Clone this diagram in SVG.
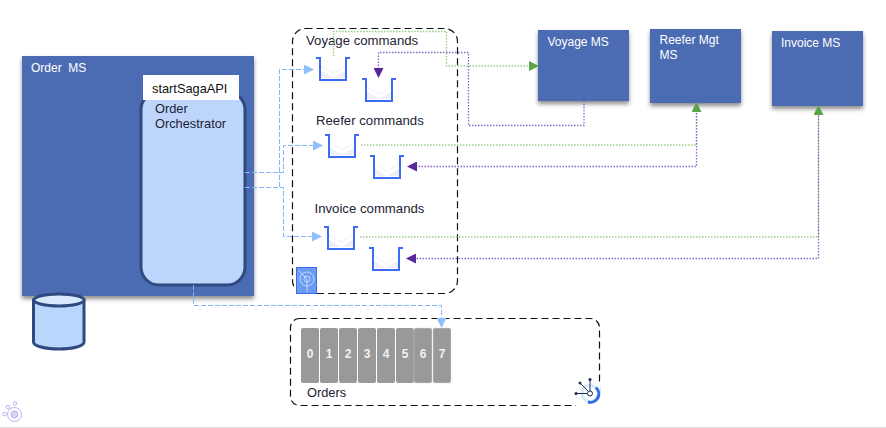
<svg xmlns="http://www.w3.org/2000/svg" width="886" height="428" viewBox="0 0 886 428">
<style>
text{font-family:"Liberation Sans",Arial,sans-serif;font-size:12.800px;fill:#1e2233}
.cm{font-size:13.200px}
.w{fill:#fff;font-size:12px}
.ms{fill:#4b6cb3;filter:url(#sh)}
.bx{fill:none;stroke:#111;stroke-width:1.200;stroke-dasharray:7 4}
.bl{fill:none;stroke:#7db8ff;stroke-width:1;stroke-dasharray:5 2}
.gr{fill:none;stroke:#9ccb8b;stroke-width:1.400;stroke-dasharray:1.500 1.500}
.pu{fill:none;stroke:#8a68c4;stroke-width:1.300;stroke-dasharray:1.500 1.500}
.qu{fill:none;stroke:#3c6cf5;stroke-width:2}
.qe{fill:#eef1fb}
.qf{fill:none;stroke:#d5def5;stroke-width:.8;stroke-dasharray:1.500 1}
.pt{fill:#999}
.pd{fill:#999;stroke:#ddd;stroke-width:.8;stroke-dasharray:1 1}
.pn{fill:#f2f2f2;font-size:12px;font-weight:bold;text-anchor:middle}
</style>
<defs>
<filter id="sh" x="-10%" y="-10%" width="125%" height="125%"><feDropShadow dx="0" dy="3" stdDeviation="2" flood-color="#000" flood-opacity=".45"/></filter>
<marker id="ab" markerWidth="10" markerHeight="10" refX="9" refY="5" orient="auto" markerUnits="userSpaceOnUse"><path d="M0 0L10 5L0 10Z" fill="#8fc0fa"/></marker>
<marker id="ag" markerWidth="10" markerHeight="10" refX="9" refY="5" orient="auto" markerUnits="userSpaceOnUse"><path d="M0 0L10 5L0 10Z" fill="#5ba24a"/></marker>
<marker id="ap" markerWidth="10" markerHeight="10" refX="9" refY="5" orient="auto" markerUnits="userSpaceOnUse"><path d="M0 0L10 5L0 10Z" fill="#56289a"/></marker>
<g id="q"><path class="qe" d="M4 13L17 21L30 13V21H4Z"/><path class="qf" d="M5 9L17 16L29 9"/><path class="qu" d="M0 1H4V23H30V1H34"/></g>
</defs>

<g id="order-ms">
<rect class="ms" x="22" y="56" width="232" height="240"/>
<text class="w" x="31" y="72" xml:space="preserve">Order  MS</text>
</g>
<g id="orchestrator">
<rect x="141" y="92" width="104" height="193" rx="18" fill="#bdd5fb" stroke="#2f4a80" stroke-width="3"/>
<text x="155" y="113">Order</text>
<text x="155" y="128">Orchestrator</text>
</g>
<g id="start-saga-api">
<rect x="143" y="75" width="96" height="25" fill="#fff"/>
<text x="152" y="93" style="fill:#111">startSagaAPI</text>
</g>
<g id="database">
<path d="M33.500 300V342C33.500 346 45 349 59 349S84 346 84 342V300Z" fill="#b9d6fc" stroke="#2f4a80" stroke-width="3"/>
<ellipse cx="59" cy="300" rx="25" ry="6" fill="#d8e8fd" stroke="#2f4a80" stroke-width="3"/>
</g>

<g id="voyage-commands-box">
<rect class="bx" x="292.500" y="28.500" width="165" height="265" rx="13"/>
<text class="cm" x="306" y="45">Voyage commands</text>
<text class="cm" x="316" y="125">Reefer commands</text>
<text class="cm" x="314.500" y="213">Invoice commands</text>
<rect x="296.500" y="267.500" width="20" height="26" fill="#6a9cf2" stroke="#3f68f0"/>
<g fill="none" stroke="#d6e4fd" stroke-width=".8"><circle cx="307" cy="279" r="7"/><circle cx="307" cy="279" r="3"/><path d="M299 271L307 279V292"/></g>
</g>
<g id="queue-voyage-in"><use href="#q" x="316" y="57"/></g>
<g id="queue-voyage-out"><use href="#q" x="362" y="78"/></g>
<g id="queue-reefer-in"><use href="#q" x="325" y="134"/></g>
<g id="queue-reefer-out"><use href="#q" x="370" y="155"/></g>
<g id="queue-invoice-in"><use href="#q" x="324" y="226"/></g>
<g id="queue-invoice-out"><use href="#q" x="369" y="247"/></g>

<g id="voyage-ms"><rect class="ms" x="538" y="30" width="91" height="71"/><text class="w" x="547.500" y="46">Voyage MS</text></g>
<g id="reefer-ms"><rect class="ms" x="650" y="29" width="91" height="74"/><text class="w" x="659.500" y="44">Reefer Mgt</text><text class="w" x="659.500" y="59">MS</text></g>
<g id="invoice-ms"><rect class="ms" x="772" y="31" width="91" height="75"/><text class="w" x="781" y="47">Invoice MS</text></g>

<g id="orders-topic">
<rect class="bx" x="290.500" y="318.500" width="309" height="87" rx="9"/>
<rect class="pt" x="301" y="328" width="18" height="55" rx="2"/><text class="pn" x="310" y="358">0</text>
<rect class="pt" x="320" y="328" width="18" height="55" rx="2"/><text class="pn" x="329" y="358">1</text>
<rect class="pt" x="339" y="328" width="18" height="55" rx="2"/><text class="pn" x="348" y="358">2</text>
<rect class="pt" x="358" y="328" width="18" height="55" rx="2"/><text class="pn" x="367" y="358">3</text>
<rect class="pt" x="377" y="328" width="18" height="55" rx="2"/><text class="pn" x="386" y="358">4</text>
<rect class="pt" x="396" y="328" width="18" height="55" rx="2"/><text class="pn" x="405" y="358">5</text>
<rect class="pd" x="414" y="328" width="18" height="55" rx="2"/><text class="pn" x="423" y="358">6</text>
<rect class="pd" x="433" y="328" width="18" height="55" rx="2"/><text class="pn" x="442" y="358">7</text>
<text x="307" y="397">Orders</text>
<g>
<rect x="576" y="384" width="24" height="23" fill="#fff"/>
<circle cx="590" cy="393.500" r="8" fill="none" stroke="#d5ecf8" stroke-width="3"/>
<path d="M596 387.500A8.500 8.500 0 0 1 588 402" fill="none" stroke="#2f6ce0" stroke-width="3"/>
<path d="M576 393.500H590M580 383L590 393M590 379V393" stroke="#1d2a55" stroke-width="1"/>
<circle cx="576" cy="393.500" r="1.500" fill="#1d2a55"/><circle cx="580" cy="383" r="1.500" fill="#1d2a55"/><circle cx="590" cy="379.500" r="1.500" fill="#1d2a55"/>
<circle cx="590" cy="393.500" r="2.500" fill="#fff" stroke="#1d2a55"/>
</g>
</g>

<g id="logo" fill="none" stroke="#a99df0" stroke-width=".8">
<circle cx="14.500" cy="414.500" r="7"/><circle cx="14.500" cy="414.500" r="3.500" fill="#d8d8f5"/><circle cx="4.500" cy="414" r="1.800"/><circle cx="8" cy="407" r="1.800"/><circle cx="15" cy="403.500" r="1.800"/>
</g>
<rect id="bottom-rule" x="0" y="427" width="886" height="1" fill="#ddd"/>

<g id="connectors">
<path class="bl" d="M245 172.500H279.500V69.500H313" marker-end="url(#ab)"/>
<path class="bl" d="M245 172.500H283.500V145.500H322" marker-end="url(#ab)"/>
<path class="bl" d="M245 187.500H279.500V172"/>
<path class="bl" d="M245 187.500H283.500V236.500H321" marker-end="url(#ab)"/>
<path class="bl" d="M193.500 285V305.500H441.500V327" marker-end="url(#ab)"/>
<path class="gr" d="M333.500 56V31.500H446.500V66H538" marker-end="url(#ag)"/>
<path class="gr" d="M361 145H696.500V103" marker-end="url(#ag)"/>
<path class="gr" d="M360 237H818.500V106" marker-end="url(#ag)"/>
<path class="pu" d="M584 101V125.500H468.500V52.500H378.500V77" marker-end="url(#ap)"/>
<path class="pu" d="M696.500 113V166.500H408" marker-end="url(#ap)"/>
<path class="pu" d="M818.500 116V258.500H407" marker-end="url(#ap)"/>
</g>
</svg>
